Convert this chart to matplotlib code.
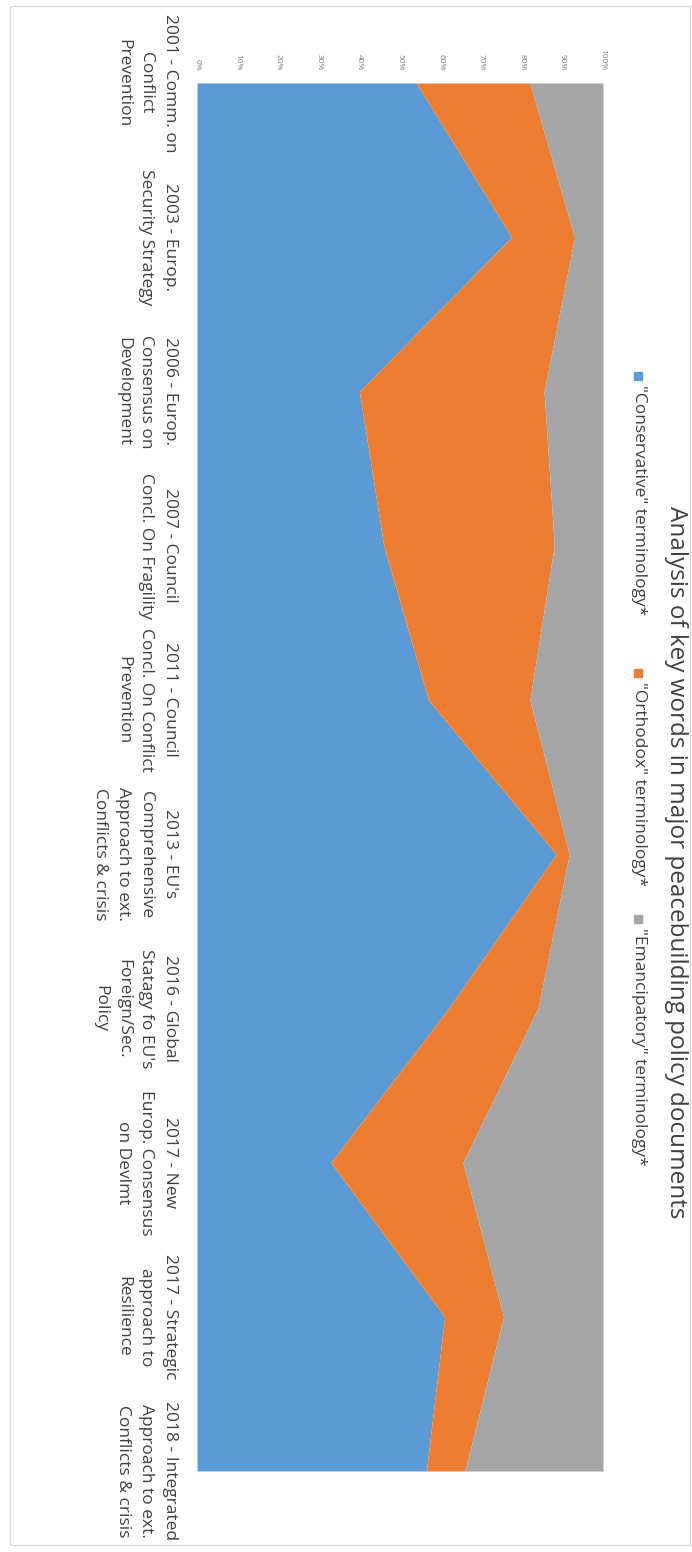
import matplotlib
matplotlib.use("Agg")
import matplotlib.pyplot as plt
from matplotlib.patches import Rectangle
from matplotlib.ticker import PercentFormatter
import numpy as np

plt.rcParams['font.family'] = ['Open Sans', 'DejaVu Sans']

documents = [
    "2001 - Comm. on\nConflict\nPrevention",
    "2003 - Europ.\nSecurity Strategy",
    "2006 - Europ.\nConsensus on\nDevelopment",
    "2007 - Council\nConcl. On Fragility",
    "2011 - Council\nConcl. On Conflict\nPrevention",
    "2013 - EU's\nComprehensive\nApproach to ext.\nConflicts & crisis",
    "2016 - Global\nStatagy fo EU's\nForeign/Sec.\nPolicy",
    "2017 - New\nEurop. Consensus\non Devlmt",
    "2017 - Strategic\napproach to\nResilience",
    "2018 - Integrated\nApproach to ext.\nConflicts & crisis",
]

# share of key words per document (%)
conservative = [54.0, 77.5, 40.0, 46.0, 57.0, 88.5, 62.0, 33.0, 61.0, 56.5]
orthodox = [28.0, 15.5, 45.5, 42.0, 25.0, 3.2, 22.0, 32.5, 14.5, 9.5]
emancipatory = [18.0, 7.0, 14.5, 12.0, 18.0, 8.3, 16.0, 34.5, 24.5, 34.0]

series_names = ['"Conservative" terminology*', '"Orthodox" terminology*',
                '"Emancipatory" terminology*']
colors = ['#5B9BD5', '#ED7D31', '#A5A5A5']

W, H = 692, 1552
fig = plt.figure(figsize=(W / 100, H / 100), dpi=100)

# chart area frame
fig.patches.append(Rectangle((10 / W, 1 - 1545 / H), 680 / W, 1539 / H,
                             transform=fig.transFigure, fill=False,
                             edgecolor='#d9d9d9', linewidth=1))

# the chart is laid out turned a quarter turn clockwise:
# percent runs left->right along the top, documents run downward
ax = fig.add_axes([197 / W, 1 - 1471 / H, 406 / W, 1388 / H])

data = np.array([conservative, orthodox, emancipatory], dtype=float)
shares = data / data.sum(axis=0)
tops = np.cumsum(shares, axis=0)
bottoms = np.vstack([np.zeros(shares.shape[1]), tops[:-1]])
pos = np.arange(len(documents))

for lo, hi, c in zip(bottoms, tops, colors):
    ax.fill_betweenx(pos, lo, hi, color=c, linewidth=0)

ax.set_xlim(0, 1)
ax.set_ylim(len(documents) - 1, 0)
for s in ax.spines.values():
    s.set_visible(False)

ax.xaxis.tick_top()
ax.set_xticks(np.linspace(0, 1, 11))
ax.xaxis.set_major_formatter(PercentFormatter(1.0, decimals=0))
ax.tick_params(axis='x', length=0, pad=9, labelsize=6, labelcolor='#7f7f7f')
for t in ax.get_xticklabels():
    t.set_rotation(-90)
    t.set_va('bottom')
    t.set_ha('center')

ax.set_yticks(pos)
ax.set_yticklabels(documents, rotation=-90, va='center', ha='right',
                   multialignment='center', fontsize=12.5, color='#404040',
                   linespacing=1.6)
ax.tick_params(axis='y', length=0, pad=14)

fig.text(676 / W, 1 - 862 / H,
         'Analysis of key words in major peacebuilding policy documents',
         rotation=-90, ha='center', va='center', fontsize=17.5, color='#404040')

# legend, drawn by hand so it can be turned with the chart
legend_starts = [372, 669, 915]
for name, c, y0 in zip(series_names, colors, legend_starts):
    fig.patches.append(Rectangle((634 / W, 1 - (y0 + 8) / H), 8 / W, 8 / H,
                                 transform=fig.transFigure, color=c))
    fig.text(639 / W, 1 - (y0 + 13) / H, name, rotation=-90, ha='center',
             va='top', fontsize=12.5, color='#404040')

fig.savefig('out.png', dpi=100, facecolor='white')
